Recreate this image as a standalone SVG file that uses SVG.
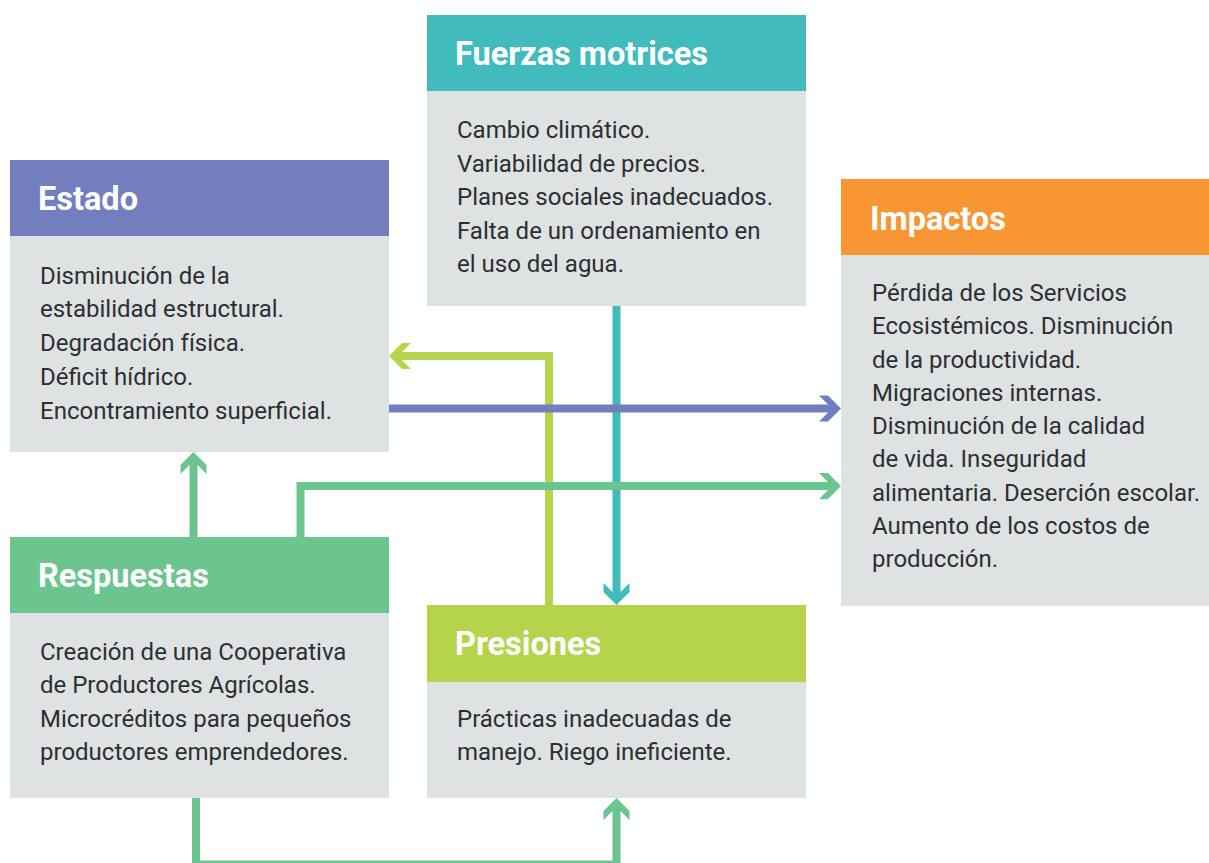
<svg xmlns="http://www.w3.org/2000/svg" width="1209" height="863" viewBox="0 0 1209 863">
<style>
.body{fill:#dfe2e3}
.title{font-family:Roboto,"Liberation Sans",sans-serif;font-weight:700;font-size:32.5px;fill:#ffffff}
.txt{font-family:Roboto,"Liberation Sans",sans-serif;font-size:24px;fill:#2c2f31}
.con{fill:none;stroke-width:8;stroke-linejoin:miter}
</style>
<defs>
<marker id="aTeal" markerUnits="userSpaceOnUse" viewBox="-24 -15 26 30" markerWidth="26" markerHeight="30" refX="-6" refY="0" orient="auto"><path d="M0,0 L-13,-13 L-22,-13 L-9,0 L-22,13 L-13,13 Z" fill="#41bbbc"/></marker>
<marker id="aLime" markerUnits="userSpaceOnUse" viewBox="-24 -15 26 30" markerWidth="26" markerHeight="30" refX="-6" refY="0" orient="auto"><path d="M0,0 L-13,-13 L-22,-13 L-9,0 L-22,13 L-13,13 Z" fill="#b5d44b"/></marker>
<marker id="aPurple" markerUnits="userSpaceOnUse" viewBox="-24 -15 26 30" markerWidth="26" markerHeight="30" refX="-6" refY="0" orient="auto"><path d="M0,0 L-13,-13 L-22,-13 L-9,0 L-22,13 L-13,13 Z" fill="#727ebe"/></marker>
<marker id="aGreen" markerUnits="userSpaceOnUse" viewBox="-24 -15 26 30" markerWidth="26" markerHeight="30" refX="-6" refY="0" orient="auto"><path d="M0,0 L-13,-13 L-22,-13 L-9,0 L-22,13 L-13,13 Z" fill="#6cc58e"/></marker>
</defs>

<g id="connectors">
<path class="con" stroke="#41bbbc" d="M616.5,306 V599" marker-end="url(#aTeal)"/>
<path class="con" stroke="#b5d44b" d="M549,605 V356 H395" marker-end="url(#aLime)"/>
<path class="con" stroke="#727ebe" d="M389,408.5 H835" marker-end="url(#aPurple)"/>
<path class="con" stroke="#6cc58e" d="M300.5,537 V486 H835" marker-end="url(#aGreen)"/>
<path class="con" stroke="#6cc58e" d="M193.5,537 V458" marker-end="url(#aGreen)"/>
<path class="con" stroke="#6cc58e" d="M196,798 V864.5 H616.5 V804" marker-end="url(#aGreen)"/>
</g>

<g id="fuerzas">
<rect class="body" x="427" y="91" width="379" height="215"/>
<rect x="427" y="15" width="379" height="76" fill="#41bbbc"/>
<text class="title" x="455" y="64.5">Fuerzas motrices</text>
<text class="txt" y="138"><tspan x="457">Cambio climático.</tspan><tspan x="457" dy="33.6">Variabilidad de precios.</tspan><tspan x="457" dy="33.6">Planes sociales inadecuados.</tspan><tspan x="457" dy="33.6">Falta de un ordenamiento en</tspan><tspan x="457" dy="33.6">el uso del agua.</tspan></text>
</g>

<g id="estado">
<rect class="body" x="10" y="236" width="379" height="216"/>
<rect x="10" y="160" width="379" height="76" fill="#727ebe"/>
<text class="title" x="38" y="210">Estado</text>
<text class="txt" y="283.5"><tspan x="40">Disminución de la</tspan><tspan x="40" dy="33.8">estabilidad estructural.</tspan><tspan x="40" dy="33.8">Degradación física.</tspan><tspan x="40" dy="33.8">Déficit hídrico.</tspan><tspan x="40" dy="33.8">Encontramiento superficial.</tspan></text>
</g>

<g id="impactos">
<rect class="body" x="841" y="255" width="368" height="351"/>
<rect x="841" y="179" width="368" height="76" fill="#f79633"/>
<text class="title" x="870" y="230">Impactos</text>
<text class="txt" y="301"><tspan x="872">Pérdida de los Servicios</tspan><tspan x="872" dy="33.25">Ecosistémicos. Disminución</tspan><tspan x="872" dy="33.25">de la productividad.</tspan><tspan x="872" dy="33.25">Migraciones internas.</tspan><tspan x="872" dy="33.25">Disminución de la calidad</tspan><tspan x="872" dy="33.25">de vida. Inseguridad</tspan><tspan x="872" dy="33.25">alimentaria. Deserción escolar.</tspan><tspan x="872" dy="33.25">Aumento de los costos de</tspan><tspan x="872" dy="33.25">producción.</tspan></text>
</g>

<g id="respuestas">
<rect class="body" x="10" y="613" width="379" height="185"/>
<rect x="10" y="537" width="379" height="76" fill="#6cc58e"/>
<text class="title" x="38" y="587">Respuestas</text>
<text class="txt" y="659.5"><tspan x="40">Creación de una Cooperativa</tspan><tspan x="40" dy="33.6">de Productores Agrícolas.</tspan><tspan x="40" dy="33.6">Microcréditos para pequeños</tspan><tspan x="40" dy="33.6">productores emprendedores.</tspan></text>
</g>

<g id="presiones">
<rect class="body" x="427" y="682" width="379" height="116"/>
<rect x="427" y="605" width="379" height="77" fill="#b5d44b"/>
<text class="title" x="455" y="654.5">Presiones</text>
<text class="txt" y="727.3"><tspan x="457">Prácticas inadecuadas de</tspan><tspan x="457" dy="33">manejo. Riego ineficiente.</tspan></text>
</g>
</svg>
